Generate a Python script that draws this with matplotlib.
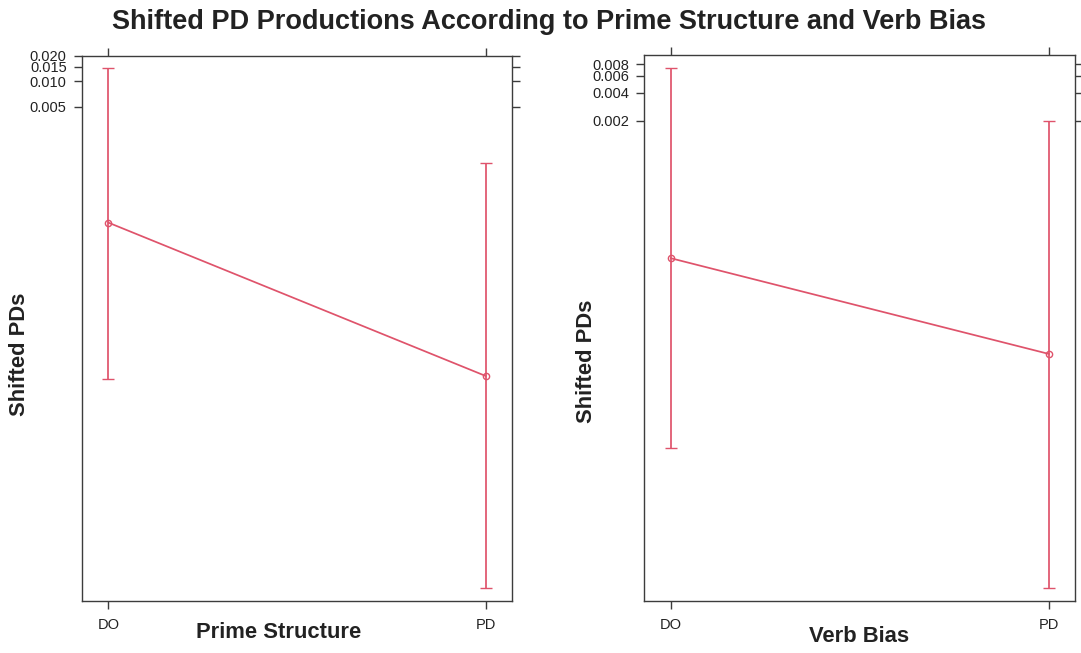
import numpy as np
import matplotlib
matplotlib.use("Agg")
from matplotlib import pyplot as plt
from matplotlib.ticker import NullLocator

plt.rcParams['font.family'] = ['Liberation Sans', 'DejaVu Sans']

levels = ["DO", "PD"]

# effect estimates (probability scale) with 95% CI
prime_fit   = [2.04e-4, 2.95e-6]
prime_lower = [2.72e-6, 8.35e-9]
prime_upper = [1.442e-2, 1.05e-3]
prime_ticks = [0.005, 0.010, 0.015, 0.020]
prime_tick_labels = ["0.005", "0.010", "0.015", "0.020"]

verb_fit   = [6.98e-5, 6.72e-6]
verb_lower = [6.75e-7, 2.2e-8]
verb_upper = [7.32e-3, 2.0e-3]
verb_ticks = [0.002, 0.004, 0.006, 0.008]
verb_tick_labels = ["0.002", "0.004", "0.006", "0.008"]

W, H = 1081, 653
col = "#DF536B"
frame = "#3c3c3c"
txt = "#222222"

fig = plt.figure(figsize=(W / 100, H / 100), dpi=100)


def panel(rect, fit, lower, upper, ticks, tick_labels, ylim):
    ax = fig.add_axes(rect)
    x = np.arange(1, len(levels) + 1)
    fit = np.array(fit)
    err = [fit - np.array(lower), np.array(upper) - fit]
    ax.set_yscale("logit")
    ax.errorbar(x, fit, yerr=err, color=col, lw=1.25, capsize=4.6, capthick=1.25,
                marker="o", ms=4.5, mfc="none", mec=col, mew=1.0)
    ax.set_xlim(0.929, 2.069)
    ax.set_ylim(*ylim)
    ax.set_xticks(x, levels)
    ax.set_yticks(ticks, tick_labels)
    ax.yaxis.set_minor_locator(NullLocator())
    ax.tick_params(top=True, right=True, labeltop=False, labelright=False,
                   direction="out", length=5.8, width=1.0, color=frame,
                   labelsize=10.5, labelcolor=txt)
    ax.tick_params(axis="x", pad=7)
    ax.tick_params(axis="y", pad=5)
    for s in ax.spines.values():
        s.set_color(frame)
        s.set_linewidth(1.0)
    return ax


def fx(px):
    return px / W


def fy(py):
    return 1 - py / H


panel([fx(81.7), fy(600.7), fx(430), 545 / H], prime_fit, prime_lower, prime_upper,
      prime_ticks, prime_tick_labels, (5.93e-9, 0.02016))
panel([fx(644), fy(600.7), fx(431), 545.4 / H], verb_fit, verb_lower, verb_upper,
      verb_ticks, verb_tick_labels, (1.61e-8, 0.00988))

fig.text(fx(549), fy(22), "Shifted PD Productions According to Prime Structure and Verb Bias",
         ha="center", va="center", fontsize=19.5, fontweight="bold", color=txt)
fig.text(fx(279), fy(633), "Prime Structure", ha="center", va="center",
         fontsize=15.8, fontweight="bold", color=txt)
fig.text(fx(859), fy(636), "Verb Bias", ha="center", va="center",
         fontsize=15.8, fontweight="bold", color=txt)
fig.text(fx(20), fy(354), "Shifted PDs", ha="center", va="center", rotation=90,
         fontsize=15.8, fontweight="bold", color=txt)
fig.text(fx(587), fy(361), "Shifted PDs", ha="center", va="center", rotation=90,
         fontsize=15.8, fontweight="bold", color=txt)

fig.savefig("out.png", dpi=100)
